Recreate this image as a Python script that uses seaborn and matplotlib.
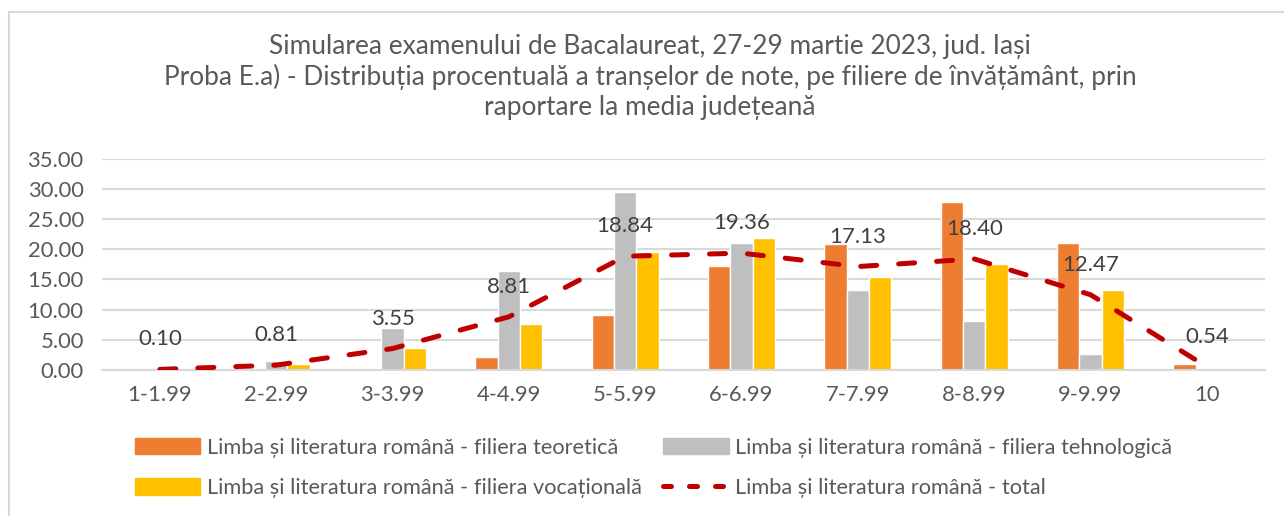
"""Simulare Bacalaureat 2023, jud. Iasi - distributia notelor pe filiere."""
import matplotlib
matplotlib.use("Agg")
import matplotlib.pyplot as plt
import pandas as pd
import seaborn as sns
from matplotlib.lines import Line2D
from matplotlib.patches import Patch, Rectangle

categories = ["1-1.99", "2-2.99", "3-3.99", "4-4.99", "5-5.99",
              "6-6.99", "7-7.99", "8-8.99", "9-9.99", "10"]
teoretica = [0.0, 0.0, 0.3, 2.15, 9.1, 17.3, 20.95, 27.8, 21.0, 1.0]
tehnologica = [0.1, 1.5, 7.0, 16.4, 29.5, 21.0, 13.2, 8.1, 2.65, 0.0]
vocationala = [0.0, 0.95, 3.7, 7.6, 19.5, 21.85, 15.4, 17.5, 13.3, 0.0]
total = [0.10, 0.81, 3.55, 8.81, 18.84, 19.36, 17.13, 18.40, 12.47, 0.54]

series_names = [
    "Limba și literatura română - filiera teoretică",
    "Limba și literatura română - filiera tehnologică",
    "Limba și literatura română - filiera vocațională",
]
total_name = "Limba și literatura română - total"
colors = ["#ED7D31", "#BFBFBF", "#FFC000"]
line_color = "#C00000"
text_color = "#595959"

title_lines = [
    "Simularea examenului de Bacalaureat, 27-29 martie 2023, jud. Iași",
    "Proba E.a) - Distribuția procentuală a tranșelor de note, pe filiere de învățământ, prin",
    "raportare la media județeană",
]

sns.set_theme(style="white")
plt.rcParams["font.family"] = ["Lato", "DejaVu Sans"]

long = pd.DataFrame({
    "interval": categories * 3,
    "serie": [s for s in series_names for _ in categories],
    "valoare": teoretica + tehnologica + vocationala,
})

fig = plt.figure(figsize=(12.84, 5.16), dpi=100)
ax = fig.add_axes([101.7 / 1284, 1 - 370 / 516, (1265 - 101.7) / 1284, (370 - 158.7) / 516])

sns.barplot(data=long, x="interval", y="valoare", hue="serie", palette=colors,
            width=0.576, saturation=1, legend=False, ax=ax, zorder=2)
sns.lineplot(x=categories, y=total, sort=False, color=line_color, linewidth=3.6,
             linestyle=(0, (3.2, 4.4)), dash_capstyle="round", ax=ax, zorder=3)

for i, v in enumerate(total):
    ax.annotate(f"{v:.2f}", xy=(i, v), xytext=(0, 21.6), textcoords="offset points",
                ha="center", va="center", fontsize=16, color="#404040", zorder=4)

ax.set_xlim(-0.5, len(categories) - 0.5)
ax.set_ylim(0, 35)
ax.set_yticks(range(0, 36, 5))
ax.set_yticklabels([f"{t:.2f}" for t in range(0, 36, 5)])
ax.yaxis.grid(True, color="#D9D9D9", lw=1.5, zorder=0)
ax.set_axisbelow(True)
ax.set_xlabel("")
ax.set_ylabel("")
for side in ["left", "right", "top"]:
    ax.spines[side].set_visible(False)
ax.spines["bottom"].set_color("#D9D9D9")
ax.spines["bottom"].set_linewidth(1.5)
ax.tick_params(axis="both", length=0, labelsize=15.8, labelcolor=text_color)
ax.tick_params(axis="x", pad=11)
ax.tick_params(axis="y", pad=13)

for k, line in enumerate(title_lines):
    fig.text(650 / 1284, 1 - (47 + 30 * k) / 516, line, ha="center", va="center",
             fontsize=18.9, color=text_color)

handles = [
    Patch(color=colors[0], label=series_names[0]),
    Patch(color=colors[2], label=series_names[2]),
    Patch(color=colors[1], label=series_names[1]),
    Line2D([0], [0], color=line_color, lw=3.6, linestyle=(0, (1.6, 3.6)),
           dash_capstyle="round", label=total_name),
]
leg = fig.legend(handles=handles, ncol=2, loc="center left",
                 bbox_to_anchor=(115 / 1284, 1 - 468 / 516), frameon=False,
                 fontsize=15.7, handlelength=3.0, handleheight=0.8, handletextpad=0.3,
                 columnspacing=1.0, labelspacing=0.95)
for t in leg.get_texts():
    t.set_color(text_color)

fig.add_artist(Rectangle((9 / 1284, -0.1), 1.2, 1 - 12 / 516 + 0.1,
                         transform=fig.transFigure, fill=False,
                         edgecolor="#D9D9D9", lw=1.5))

fig.savefig("out.png", dpi=100)
